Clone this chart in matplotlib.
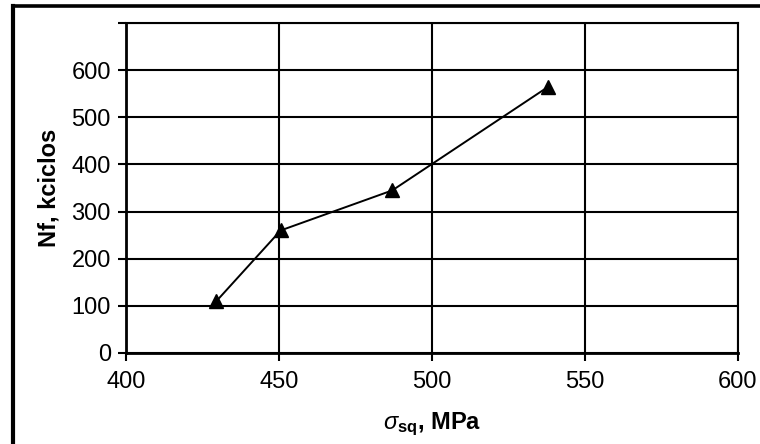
import matplotlib
matplotlib.use("Agg")
import matplotlib.pyplot as plt
from matplotlib.lines import Line2D

# Data
sigma_sq = [429.5, 450.5, 487, 538]
nf_kcycles = [110, 260, 345, 565]

x_ticks = [400, 450, 500, 550, 600]
y_ticks = [0, 100, 200, 300, 400, 500, 600, 700]
y_tick_labels = ["0", "100", "200", "300", "400", "500", "600", ""]

plt.rcParams["font.family"] = ["Liberation Sans", "DejaVu Sans"]
plt.rcParams["mathtext.fontset"] = "custom"
plt.rcParams["mathtext.rm"] = "Liberation Sans"
plt.rcParams["mathtext.it"] = "Liberation Sans:italic"
plt.rcParams["mathtext.bf"] = "Liberation Sans:bold"

fig = plt.figure(figsize=(7.6, 4.44), dpi=100)
ax = fig.add_axes([0.166, 0.205, 0.805, 0.743])

ax.plot(sigma_sq, nf_kcycles, color="black", linewidth=1.4,
        marker="^", markersize=10, markerfacecolor="black", markeredgecolor="black")

ax.set_xlim(400, 600)
ax.set_ylim(0, 700)
ax.set_xticks(x_ticks)
ax.set_yticks(y_ticks)
ax.set_yticklabels(y_tick_labels)
ax.tick_params(axis="both", direction="out", length=6, width=1.5,
               labelsize=17, color="black")
ax.tick_params(axis="x", pad=7)
ax.tick_params(axis="y", pad=5)

ax.grid(True, color="black", linewidth=1.5)
ax.set_axisbelow(True)
for side in ["left", "bottom"]:
    ax.spines[side].set_linewidth(2)
for side in ["top", "right"]:
    ax.spines[side].set_linewidth(1.5)

ax.set_ylabel("Nf, kciclos", fontsize=17, fontweight="bold")
ax.set_xlabel(r"$\mathit{\sigma}_{\mathbf{sq}}$, MPa", fontsize=17,
              fontweight="bold")
ax.yaxis.set_label_coords(-0.108, 0.5)
ax.xaxis.set_label_coords(0.5, -0.175)

# outer frame (left and top edges of the cropped figure box)
fig.add_artist(Line2D([13 / 760, 13 / 760], [0, 1 - 6 / 444], color="black",
                      linewidth=3, transform=fig.transFigure))
fig.add_artist(Line2D([13 / 760, 1], [1 - 6 / 444, 1 - 6 / 444], color="black",
                      linewidth=2.6, transform=fig.transFigure))

fig.savefig("out.png", dpi=100)
